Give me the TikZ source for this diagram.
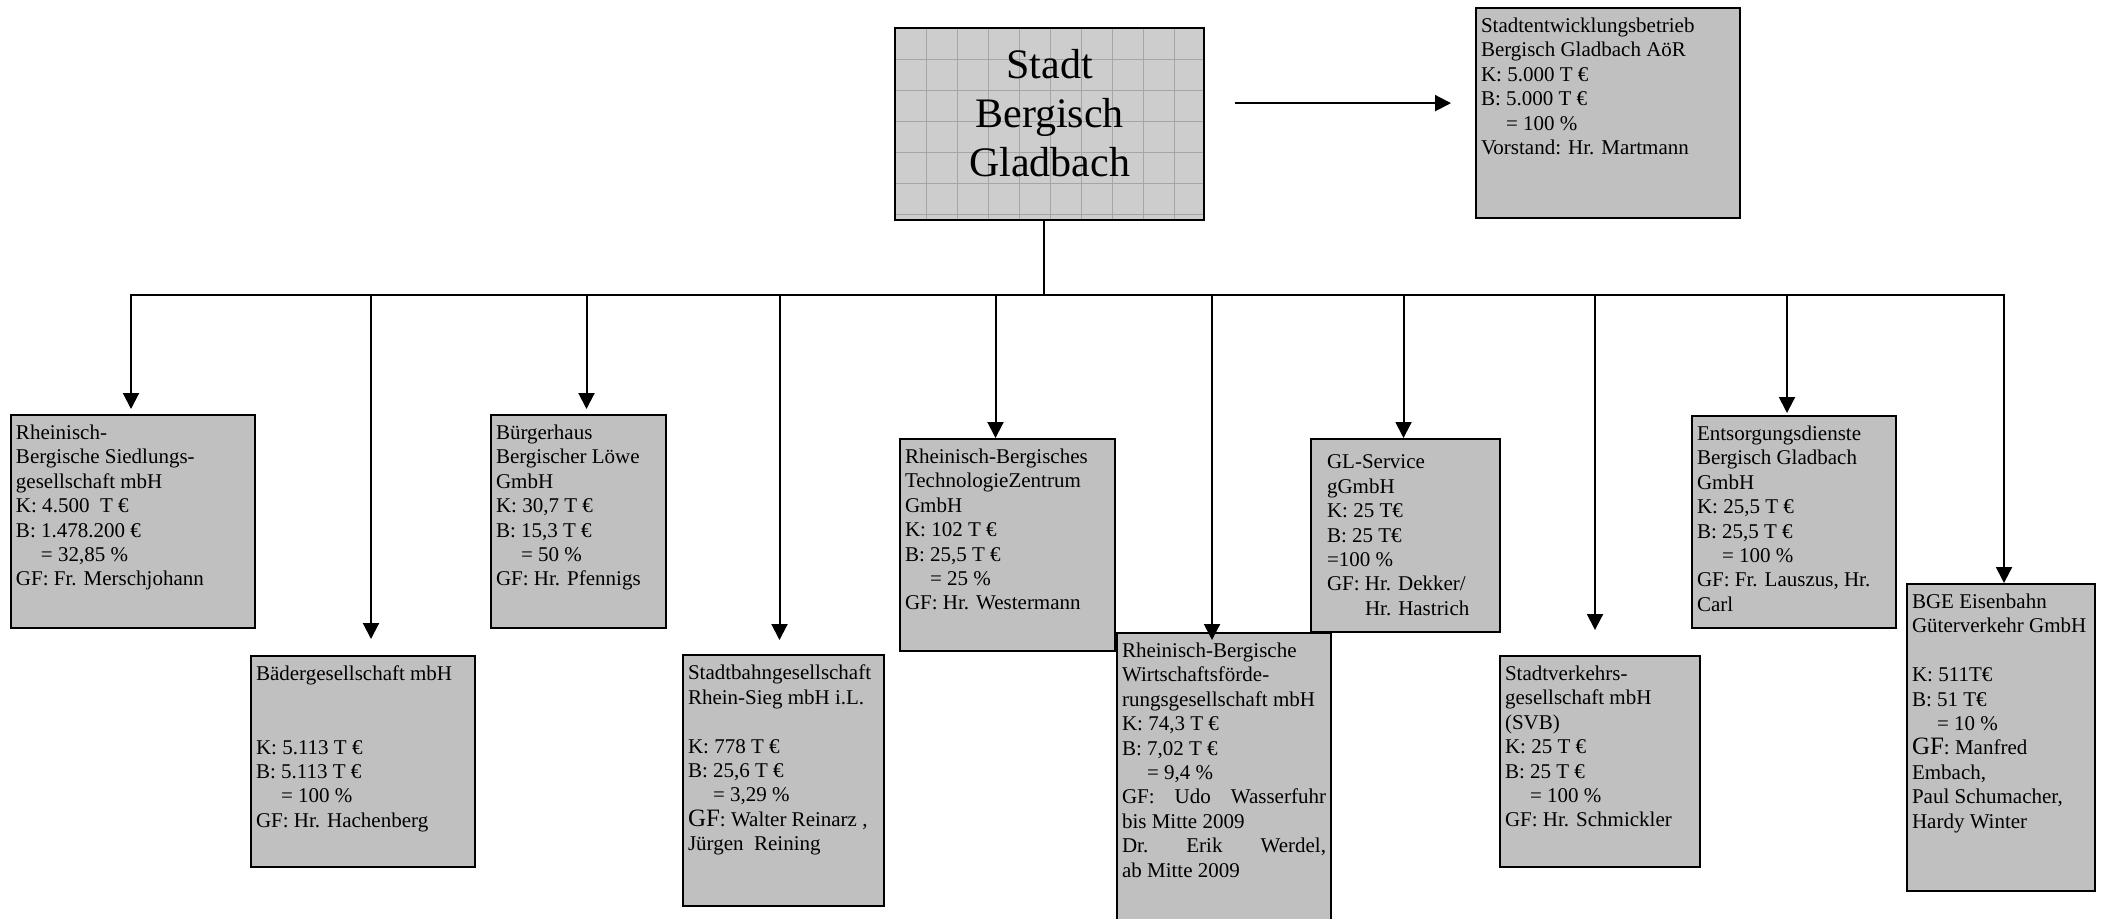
\documentclass[tikz,border=0pt]{standalone}
\usepackage{fontspec}
\setmainfont{Liberation Serif}
\usetikzlibrary{arrows.meta}
\definecolor{kastengrau}{RGB}{192,192,192}
\definecolor{stadtgrau}{RGB}{205,205,205}
\definecolor{gittergrau}{RGB}{165,165,165}
\newdimen\px \px=0.5pt
\newcommand{\firma}[3]{\parbox[c][\dimexpr#2\px-10pt\relax][t]{\dimexpr#1\px-5pt\relax}{\raggedright #3}}
\newcommand{\eingerueckt}{\hspace*{12.5pt}}
\newcommand{\grossGF}{{\fontsize{12.5pt}{12.2pt}\selectfont GF}}
\tikzset{firmbox/.style={draw, line width=1pt, fill=kastengrau, anchor=north west, inner xsep=2.5pt, inner ysep=5pt, font=\fontsize{10.5pt}{12.2pt}\selectfont},
  stadtbox/.style={draw, line width=1.1pt, fill=stadtgrau, anchor=north west, inner sep=0pt, font=\fontsize{21pt}{24.5pt}\selectfont,
    path picture={
      \foreach \i in {1,...,9} \draw[gittergrau, line width=0.6pt] ([xshift=\i*15.5pt]path picture bounding box.north west) -- ([xshift=\i*15.5pt]path picture bounding box.south west);
      \foreach \j in {1,...,6} \draw[gittergrau, line width=0.6pt] ([yshift=-\j*15.5pt]path picture bounding box.north west) -- ([yshift=-\j*15.5pt]path picture bounding box.north east);
    }},
  linie/.style={line width=1pt, line cap=rect},
  pfeil/.style={line width=1pt, -{Triangle[width=8pt,length=8pt]}}}

\begin{document}
\begin{tikzpicture}[x=0.5pt, y=-0.5pt]
\useasboundingbox (0,0) rectangle (2102,918);

\node[stadtbox] (stadt) at (894,27) {\parbox[c][192\px][t]{309\px}{\centering\vspace*{10.5pt}Stadt\\Bergisch\\Gladbach}};
\node[firmbox] (aoer) at (1475,7) {\firma{264}{210}{Stadtentwicklungsbetrieb\\Bergisch Gladbach AöR\\K: 5.000 T €\\B: 5.000 T €\\\eingerueckt= 100 \%\\Vorstand: Hr. Martmann}};

% Beteiligungen
\node[firmbox] (rbs) at (10,414) {\firma{244}{213}{Rheinisch-\\Bergische Siedlungs-\\gesellschaft mbH\\K: 4.500\ \ T €\\B: 1.478.200 €\\\eingerueckt= 32,85 \%\\GF: Fr. Merschjohann}};
\node[firmbox] (baeder) at (250,655) {\firma{224}{211}{Bädergesellschaft mbH\\[24.4pt]K: 5.113 T €\\B: 5.113 T €\\\eingerueckt= 100 \%\\GF: Hr. Hachenberg}};
\node[firmbox] (loewe) at (490,414) {\firma{175}{213}{Bürgerhaus\\Bergischer Löwe\\GmbH\\K: 30,7 T €\\B: 15,3 T €\\\eingerueckt= 50 \%\\GF: Hr. Pfennigs}};
\node[firmbox] (stadtbahn) at (682,654) {\firma{201}{251}{Stadtbahngesellschaft\\Rhein-Sieg mbH i.L.\\[12.2pt]K: 778 T €\\B: 25,6 T €\\\eingerueckt= 3,29 \%\\\grossGF: Walter Reinarz ,\\Jürgen\ \ Reining}};
\node[firmbox] (rbtz) at (899,438) {\firma{215}{212}{Rheinisch-Bergisches\\TechnologieZentrum\\GmbH\\K: 102 T €\\B: 25,5 T €\\\eingerueckt= 25 \%\\GF: Hr. Westermann}};
\node[firmbox] (rbw) at (1116,632) {\firma{214}{300}{Rheinisch-Bergische\\Wirtschaftsförde-\\rungsgesellschaft mbH\\K: 74,3 T €\\B: 7,02 T €\\\eingerueckt= 9,4 \%\\GF:\hfill Udo\hfill Wasserfuhr\\bis Mitte 2009\\Dr.\hfill Erik\hfill Werdel,\\ab Mitte 2009}};
\node[firmbox] (gl) at (1310,438) {\firma{189}{193}{\leftskip=5.5pt\vspace*{3pt}GL-Service\\gGmbH\\K: 25 T€\\B: 25 T€\\=100 \%\\GF: Hr. Dekker/\\\hspace*{19pt}Hr. Hastrich}};
\node[firmbox] (svb) at (1499,655) {\firma{200}{211}{Stadtverkehrs-\\gesellschaft mbH\\(SVB)\\K: 25 T €\\B: 25 T €\\\eingerueckt= 100 \%\\GF: Hr. Schmickler}};
\node[firmbox] (edg) at (1691,415) {\firma{204}{212}{Entsorgungsdienste\\Bergisch Gladbach\\GmbH\\K: 25,5 T €\\B: 25,5 T €\\\eingerueckt= 100 \%\\GF: Fr. Lauszus, Hr.\\Carl}};
\node[firmbox] (bge) at (1906,583) {\firma{188}{307}{BGE Eisenbahn\\Güterverkehr GmbH\\[12.2pt]K: 511T€\\B: 51 T€\\\eingerueckt= 10 \%\\\grossGF: Manfred\\Embach,\\Paul Schumacher,\\Hardy Winter}};

\coordinate (knoten) at (1044,295);
\draw[linie] (knoten |- stadt.south) -- (knoten);
\foreach \n/\dx/\gap in {rbs/-2/5, baeder/8/16, loewe/8/5, stadtbahn/-4/14, rbtz/-12/0, rbw/-12/-8, gl/-2/0, svb/-5/25, edg/-7/2, bge/3/0}{
  \coordinate (\n-ziel) at ([xshift=\dx*0.5pt]\n.north);
  \draw[pfeil, shorten >=\gap*0.5pt] (\n-ziel |- knoten) -- (\n-ziel);
}
\draw[linie] (rbs-ziel |- knoten) -- (bge-ziel |- knoten);

\coordinate (pfeilstart) at ([yshift=10.5pt]stadt.east);
\draw[pfeil, shorten <=15pt, shorten >=12pt] (pfeilstart) -- (pfeilstart -| aoer.west);
\end{tikzpicture}
\end{document}
